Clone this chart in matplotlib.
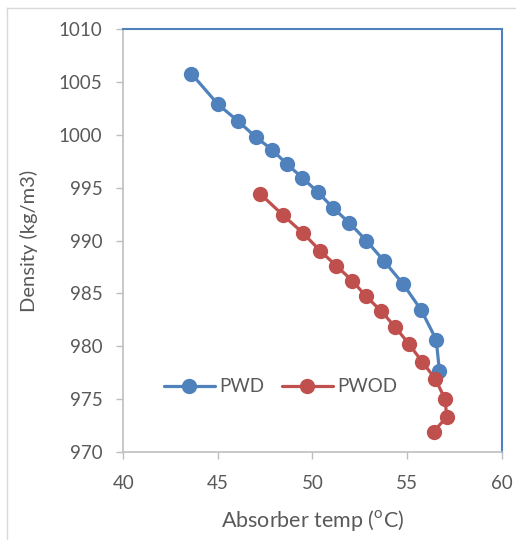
import matplotlib
matplotlib.use("Agg")
import matplotlib.pyplot as plt
from matplotlib.lines import Line2D

pwd_temp = [43.6, 45.0, 46.07, 47.0, 47.86, 48.67, 49.46, 50.27, 51.08, 51.93,
            52.84, 53.76, 54.78, 55.75, 56.54, 56.71]
pwd_density = [1005.8, 1002.9, 1001.3, 999.8, 998.6, 997.2, 995.95, 994.6, 993.1,
               991.7, 990.0, 988.1, 985.9, 983.4, 980.6, 977.6]

pwod_temp = [47.25, 48.44, 49.5, 50.42, 51.26, 52.1, 52.84, 53.64, 54.37, 55.1,
             55.8, 56.49, 57.0, 57.1, 56.4]
pwod_density = [994.4, 992.4, 990.7, 989.0, 987.6, 986.2, 984.7, 983.3, 981.8,
                980.2, 978.5, 976.9, 975.0, 973.3, 971.9]

x_ticks = [40, 45, 50, 55, 60]
y_ticks = [970, 975, 980, 985, 990, 995, 1000, 1005, 1010]

plt.rcParams['font.family'] = ['Lato', 'DejaVu Sans']
plt.rcParams['mathtext.fontset'] = 'custom'
plt.rcParams['mathtext.rm'] = 'Lato'

BLUE = '#4F81BD'
RED = '#C0504D'
TXT = '#595959'
GRID = '#BFBFBF'

W, H = 516, 540
fig = plt.figure(figsize=(W / 100, H / 100), dpi=100)
ax = fig.add_axes([123.3 / W, 1 - 451.7 / H, (501.7 - 123.3) / W, (451.7 - 29.3) / H])

ax.plot(pwd_temp, pwd_density, color=BLUE, lw=2.3, marker='o', ms=10, label='PWD',
        solid_capstyle='round', zorder=3)
ax.plot(pwod_temp, pwod_density, color=RED, lw=2.3, marker='o', ms=10, label='PWOD',
        solid_capstyle='round', zorder=3)

ax.set_xlim(40, 60)
ax.set_ylim(970, 1010)
ax.set_xticks(x_ticks)
ax.set_yticks(y_ticks)
ax.tick_params(axis='both', colors=GRID, labelcolor=TXT, labelsize=13.5, length=5,
               width=1, direction='out')
ax.tick_params(axis='x', pad=12)
ax.tick_params(axis='y', pad=10)

for s in ['left', 'bottom']:
    ax.spines[s].set_color(GRID)
    ax.spines[s].set_linewidth(1.2)
for s in ['top', 'right']:
    ax.spines[s].set_color(BLUE)
    ax.spines[s].set_linewidth(1.5)

ax.set_xlabel('Absorber temp ($^{\\mathrm{o}}$C)', fontsize=15.5, color=TXT, labelpad=11)
ax.set_ylabel('Density (kg/m3)', fontsize=14.5, color=TXT, labelpad=15)

leg = ax.legend(loc='center left', bbox_to_anchor=(164 / W, 1 - 387 / H),
                bbox_transform=fig.transFigure, ncol=2, frameon=False,
                fontsize=13.5, handlelength=2.7, handletextpad=0.25, columnspacing=0.95,
                labelcolor=TXT, borderaxespad=0, borderpad=0)

# outer chart border (top and left)
fig.add_artist(Line2D([7 / W, 1], [1 - 8 / H, 1 - 8 / H], transform=fig.transFigure,
                      color='#D9D9D9', lw=1))
fig.add_artist(Line2D([7 / W, 7 / W], [0, 1 - 8 / H], transform=fig.transFigure,
                      color='#D9D9D9', lw=1))

fig.savefig('out.png', dpi=100)
